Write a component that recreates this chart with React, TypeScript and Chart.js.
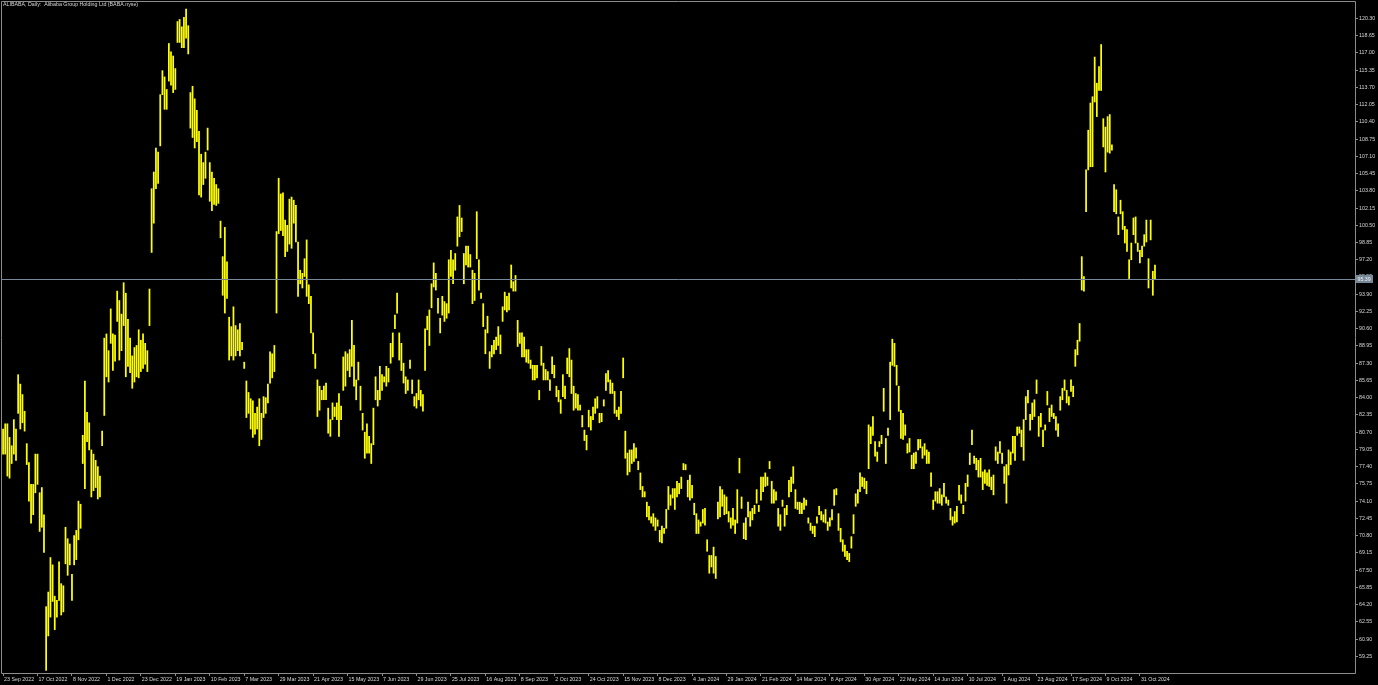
import React, { useEffect, useRef } from "react";
import { Chart, registerables } from "chart.js";
Chart.register(...registerables);

const chartTitle = "ALIBABA, Daily:  Alibaba Group Holding Ltd (BABA.nyse)";

// one date label every 16 daily bars, starting at bar 0
const xTickLabels = [
  "23 Sep 2022", "17 Oct 2022", "8 Nov 2022", "1 Dec 2022", "23 Dec 2022", "19 Jan 2023",
  "10 Feb 2023", "7 Mar 2023", "29 Mar 2023", "21 Apr 2023", "15 May 2023", "7 Jun 2023",
  "29 Jun 2023", "25 Jul 2023", "16 Aug 2023", "8 Sep 2023", "2 Oct 2023", "24 Oct 2023",
  "15 Nov 2023", "8 Dec 2023", "4 Jan 2024", "29 Jan 2024", "21 Feb 2024", "14 Mar 2024",
  "8 Apr 2024", "30 Apr 2024", "22 May 2024", "14 Jun 2024", "10 Jul 2024", "1 Aug 2024",
  "23 Aug 2024", "17 Sep 2024", "9 Oct 2024", "31 Oct 2024",
];
const barsPerDateLabel = 16;

const yTickValues = [
  59.25, 60.9, 62.55, 64.2, 65.85, 67.5, 69.15, 70.8, 72.45, 74.1, 75.75, 77.4, 79.05,
  80.7, 82.35, 84.0, 85.65, 87.3, 88.95, 90.6, 92.25, 93.9, 95.55, 97.2, 98.85, 100.5,
  102.15, 103.8, 105.45, 107.1, 108.75, 110.4, 112.05, 113.7, 115.35, 117.0, 118.65, 120.3,
];

const currentPrice = 95.39;

const barLow = [
  78.6, 78.6, 76.5, 76.3, 77.7, 78.6, 78.0, 82.5, 81.0, 81.6,
  80.8, 77.6, 74.1, 72.0, 72.8, 74.9, 75.7, 71.2, 71.6, 69.2,
  57.9, 61.2, 63.0, 64.5, 61.8, 63.0, 64.6, 63.2, 63.5, 68.1,
  67.0, 68.0, 64.6, 68.0, 68.5, 70.4, 71.5, 77.7, 75.3, 79.8,
  79.0, 74.5, 75.1, 75.4, 74.3, 74.5, 79.4, 82.3, 86.0, 85.5,
  89.2, 86.6, 87.5, 91.3, 87.6, 88.5, 90.9, 86.0, 87.0, 86.4,
  84.9, 85.5, 86.0, 85.9, 86.5, 86.8, 87.2, 86.5, 90.9, 97.9,
  100.7, 104.0, 104.5, 108.1, 113.0, 111.6, 111.6, 114.3, 113.9, 113.2,
  113.5, 118.0, 118.0, 117.5, 117.5, 118.4, 116.9, 109.8, 108.9, 107.9,
  108.5, 103.4, 103.2, 104.4, 105.0, 107.7, 102.8, 101.9, 102.5, 102.4,
  102.6, 99.3, 93.8, 92.1, 93.5, 87.6, 88.0, 87.6, 88.0, 88.5,
  88.0, 88.6, 86.8, 82.1, 82.5, 81.0, 80.2, 80.5, 81.0, 79.4,
  80.0, 82.1, 82.5, 83.5, 85.4, 85.9, 86.5, 92.1, 99.7, 100.0,
  99.5, 97.5, 98.0, 98.7, 98.3, 100.7, 98.9, 93.7, 94.9, 94.5,
  95.6, 93.7, 93.0, 90.2, 88.2, 86.8, 82.2, 82.8, 83.8, 83.8,
  83.8, 80.6, 80.3, 81.9, 82.2, 81.9, 80.3, 81.9, 84.7, 85.1,
  86.6, 86.0, 87.0, 85.1, 83.8, 85.7, 82.8, 80.9, 78.2, 78.7,
  78.7, 77.7, 79.5, 83.8, 83.2, 83.8, 84.7, 85.5, 85.1, 85.5,
  87.3, 87.9, 90.6, 92.1, 87.6, 86.6, 85.4, 84.4, 84.7, 86.8,
  84.4, 83.2, 83.0, 83.8, 83.2, 82.7, 86.6, 90.5, 89.0, 92.6,
  94.6, 94.3, 92.1, 90.2, 91.9, 91.3, 91.6, 92.1, 95.6, 94.9,
  96.2, 98.5, 99.4, 99.9, 94.9, 96.7, 96.5, 96.5, 93.0, 93.3,
  97.3, 94.3, 93.5, 90.8, 88.2, 90.2, 86.8, 87.9, 88.2, 88.6,
  89.0, 88.2, 91.3, 92.4, 92.2, 92.4, 94.5, 94.2, 94.2, 88.9,
  89.2, 87.9, 87.9, 87.4, 87.3, 86.8, 85.7, 85.7, 85.9, 83.8,
  87.1, 85.7, 85.7, 85.7, 84.7, 86.3, 85.9, 84.1, 83.6, 82.5,
  84.1, 83.9, 86.3, 86.0, 84.4, 82.8, 83.0, 82.8, 82.8, 81.2,
  79.9, 79.0, 81.2, 80.9, 81.9, 82.5, 83.0, 81.6, 81.7, 83.2,
  84.7, 85.5, 84.4, 84.4, 82.5, 82.2, 81.9, 82.5, 85.9, 78.2,
  76.6, 76.9, 77.7, 77.9, 78.2, 77.1, 75.2, 74.5, 74.5, 72.6,
  72.3, 72.0, 71.7, 71.3, 71.7, 70.2, 70.1, 71.0, 71.5, 73.3,
  73.7, 74.4, 73.3, 74.5, 74.8, 75.3, 77.1, 77.1, 74.5, 74.2,
  74.4, 72.8, 71.0, 71.0, 71.7, 72.0, 71.8, 69.3, 67.2, 67.8,
  67.2, 66.7, 72.4, 72.6, 73.6, 72.8, 72.9, 72.1, 71.5, 71.8,
  71.0, 72.0, 76.8, 73.4, 70.5, 70.4, 72.6, 71.7, 72.3, 72.9,
  73.9, 73.1, 74.2, 75.0, 75.5, 75.6, 77.2, 73.9, 73.9, 74.2,
  71.7, 71.3, 73.6, 71.7, 72.8, 74.5, 75.0, 75.8, 73.4, 73.3,
  72.9, 72.9, 73.3, 73.7, 72.0, 71.3, 71.0, 70.7, 72.0, 72.8,
  72.3, 72.1, 72.0, 71.3, 71.7, 72.3, 73.7, 74.7, 71.3, 70.2,
  69.3, 68.8, 68.5, 68.3, 69.6, 71.0, 73.6, 73.9, 75.0, 75.5,
  75.3, 74.8, 77.2, 79.6, 80.4, 78.4, 77.9, 79.3, 79.6, 82.7,
  77.7, 80.4, 81.9, 87.1, 87.0, 85.2, 82.7, 80.1, 80.0, 80.4,
  78.7, 78.8, 77.2, 77.2, 77.7, 79.0, 79.2, 78.2, 78.5, 77.7,
  77.7, 75.5, 73.3, 74.1, 73.9, 73.9, 73.7, 74.5, 73.9, 73.7,
  72.3, 71.8, 72.0, 72.1, 74.2, 73.9, 72.9, 74.1, 75.5, 77.6,
  79.5, 77.7, 77.1, 76.4, 76.4, 75.2, 75.8, 75.6, 75.5, 75.2,
  74.7, 78.0, 77.7, 78.7, 77.7, 75.8, 73.9, 76.6, 77.6, 78.7,
  78.0, 80.4, 80.6, 79.3, 78.0, 81.9, 83.5, 80.9, 81.9, 82.2,
  84.4, 80.3, 81.2, 79.3, 80.9, 83.3, 81.7, 82.2, 82.0, 80.9,
  80.3, 82.8, 83.8, 84.7, 83.5, 83.3, 84.6, 84.1, 87.0, 88.1,
  89.4, 94.3, 94.2, 101.8, 105.8, 106.1, 106.1, 112.3, 110.9, 113.4,
  113.4, 108.0, 105.6, 107.5, 107.4, 107.7, 101.8, 101.6, 99.6, 101.6,
  100.1, 98.8, 98.0, 95.4, 97.2, 99.6, 98.8, 98.0, 96.9, 97.5,
  98.5, 98.9, 94.5, 99.1, 93.8, 95.3,
];

const barHigh = [
  81.0, 81.5, 81.5, 80.2, 79.4, 81.9, 81.0, 86.2, 85.3, 84.3,
  82.7, 79.6, 77.8, 75.7, 75.7, 78.6, 78.6, 74.9, 75.4, 72.8,
  64.0, 65.4, 68.7, 68.0, 65.0, 64.6, 68.3, 66.2, 66.0, 71.6,
  70.5, 70.0, 67.1, 70.8, 71.3, 74.1, 73.8, 80.4, 85.6, 82.6,
  81.6, 79.0, 78.6, 78.0, 77.4, 76.5, 80.8, 89.7, 90.1, 88.5,
  92.5, 90.1, 90.0, 94.2, 93.3, 92.0, 95.0, 94.0, 91.5, 89.7,
  88.0, 88.8, 89.0, 90.5, 89.5, 90.1, 89.2, 88.5, 94.4, 104.0,
  105.6, 107.9, 107.5, 113.0, 115.3, 114.7, 113.5, 117.9, 117.1, 116.7,
  115.5, 120.0, 120.2, 119.5, 120.4, 121.2, 119.6, 113.2, 113.8, 112.6,
  111.5, 109.5, 107.3, 106.5, 107.5, 109.8, 106.5, 105.6, 105.0, 104.4,
  104.0, 100.9, 97.5, 100.3, 97.0, 91.7, 90.8, 92.7, 90.9, 90.5,
  91.1, 89.3, 87.4, 85.6, 84.5, 83.9, 83.7, 82.5, 83.1, 83.9,
  82.5, 84.1, 84.0, 85.3, 88.4, 88.2, 89.0, 99.9, 105.0, 103.5,
  103.6, 101.0, 100.5, 103.0, 103.2, 102.9, 102.4, 98.9, 96.2, 95.9,
  97.3, 99.1, 94.8, 93.7, 90.2, 88.2, 85.7, 85.1, 84.7, 85.1,
  85.4, 83.0, 81.9, 83.5, 83.1, 83.5, 84.4, 83.2, 87.9, 88.4,
  88.2, 88.6, 91.4, 89.0, 85.7, 87.4, 85.1, 82.5, 80.7, 81.5,
  80.3, 79.6, 83.0, 86.0, 84.7, 87.0, 86.2, 86.0, 87.0, 86.8,
  89.2, 90.2, 91.9, 94.0, 90.2, 89.2, 87.3, 86.0, 85.7, 87.6,
  85.7, 84.1, 84.4, 85.7, 84.7, 84.3, 90.6, 91.8, 92.4, 94.9,
  96.9, 95.9, 93.5, 91.6, 93.7, 93.2, 93.0, 97.2, 98.1, 97.2,
  97.8, 101.3, 102.4, 101.2, 97.8, 98.5, 98.5, 97.7, 96.2, 95.9,
  101.8, 97.2, 94.0, 93.0, 90.5, 91.8, 88.4, 89.0, 89.5, 89.8,
  90.8, 90.0, 92.7, 94.1, 93.7, 94.0, 96.7, 95.1, 95.7, 91.4,
  90.2, 90.2, 89.8, 88.6, 88.6, 87.6, 87.1, 87.1, 87.1, 84.7,
  88.9, 87.3, 86.7, 86.5, 85.7, 87.9, 87.1, 85.1, 84.7, 83.8,
  86.2, 85.1, 87.8, 88.7, 87.6, 85.1, 84.4, 84.3, 83.3, 82.3,
  80.9, 80.4, 82.8, 82.2, 83.1, 83.9, 84.1, 82.5, 82.5, 83.8,
  86.3, 86.6, 85.7, 85.4, 84.6, 82.8, 83.1, 84.6, 87.8, 80.8,
  78.7, 79.0, 79.0, 79.6, 79.2, 77.9, 76.8, 75.5, 75.0, 74.0,
  73.6, 72.6, 72.9, 72.5, 72.3, 71.3, 71.7, 71.5, 73.3, 75.5,
  74.7, 75.3, 75.3, 76.0, 75.8, 76.4, 77.7, 77.6, 76.1, 76.6,
  75.6, 73.9, 72.9, 72.3, 72.1, 73.3, 73.4, 70.4, 68.9, 68.9,
  69.7, 68.8, 74.0, 75.5, 75.2, 74.7, 74.5, 73.1, 72.5, 73.4,
  72.3, 75.2, 78.2, 74.5, 72.0, 72.5, 74.0, 73.1, 73.4, 73.7,
  75.2, 73.7, 76.4, 76.4, 76.8, 76.4, 77.9, 76.0, 75.2, 75.0,
  73.4, 72.8, 74.2, 73.4, 73.7, 76.1, 76.4, 77.4, 75.2, 74.0,
  74.0, 73.9, 74.4, 74.2, 72.5, 72.0, 71.7, 71.7, 72.6, 73.6,
  73.1, 72.8, 73.3, 72.1, 72.5, 73.3, 75.2, 75.3, 72.9, 71.5,
  70.4, 69.9, 69.3, 69.1, 70.7, 72.8, 74.8, 75.2, 76.8, 76.4,
  76.3, 76.0, 81.4, 81.2, 82.2, 79.8, 78.8, 79.8, 80.4, 84.9,
  80.1, 81.1, 87.4, 89.6, 89.2, 87.1, 85.1, 82.8, 82.5, 81.4,
  79.6, 80.1, 78.5, 78.7, 78.8, 80.0, 80.0, 79.3, 79.6, 79.0,
  78.8, 76.8, 74.2, 75.0, 75.0, 75.3, 74.7, 75.8, 74.5, 74.2,
  73.4, 72.6, 73.1, 73.6, 75.6, 74.7, 73.7, 75.8, 76.6, 78.7,
  80.9, 78.4, 78.2, 78.0, 78.2, 76.9, 77.1, 76.8, 77.1, 76.4,
  76.6, 79.3, 78.8, 79.8, 78.7, 77.4, 77.6, 79.0, 78.8, 80.3,
  80.3, 81.2, 81.2, 80.9, 81.9, 84.1, 84.7, 82.4, 83.5, 83.8,
  85.7, 82.2, 82.5, 80.9, 81.4, 84.6, 83.0, 83.3, 82.5, 82.2,
  81.5, 84.1, 84.9, 85.7, 84.7, 84.1, 85.7, 85.1, 88.6, 89.5,
  91.1, 97.5, 95.6, 105.8, 109.6, 112.2, 112.8, 116.6, 114.1, 115.7,
  117.8, 110.7, 109.9, 110.9, 111.1, 108.2, 104.4, 103.9, 101.3, 102.9,
  101.8, 100.4, 100.1, 97.2, 98.8, 101.2, 101.3, 98.8, 98.1, 98.5,
  99.6, 101.0, 97.3, 101.0, 96.1, 96.7,
];

const AXIS_COLOR = "#8c8c8c";
const TEXT_COLOR = "#d8d8d8";
const BAR_COLOR = "#ffff00";
const PRICE_LINE_COLOR = "#778899";
const FONT_FAMILY = "'Liberation Sans', Arial, sans-serif";
const FONT_SIZE = 5.3;

const mtPlugin = {
  id: "mtDecor",
  beforeDraw(chart: any) {
    const { ctx, width, height } = chart;
    ctx.save();
    ctx.fillStyle = "#000000";
    ctx.fillRect(0, 0, width, height);
    ctx.restore();
  },
  afterDraw(chart: any) {
    const { ctx, chartArea: ca, scales } = chart;
    ctx.save();
    // frame
    ctx.strokeStyle = AXIS_COLOR;
    ctx.lineWidth = 1;
    ctx.beginPath();
    ctx.moveTo(ca.left - 0.5, ca.bottom + 0.5);
    ctx.lineTo(ca.left - 0.5, ca.top - 0.5);
    ctx.lineTo(ca.right + 0.5, ca.top - 0.5);
    ctx.lineTo(ca.right + 0.5, ca.bottom + 0.5);
    ctx.lineTo(ca.left - 0.5, ca.bottom + 0.5);
    ctx.stroke();

    // current price line + label
    const py = Math.round(scales.y.getPixelForValue(currentPrice)) + 0.5;
    ctx.strokeStyle = PRICE_LINE_COLOR;
    ctx.beginPath();
    ctx.moveTo(ca.left, py);
    ctx.lineTo(ca.right, py);
    ctx.stroke();
    ctx.fillStyle = PRICE_LINE_COLOR;
    ctx.fillRect(ca.right + 1, py - 4.5, 17, 8);
    ctx.fillStyle = "#f0f0f0";
    ctx.font = `${FONT_SIZE}px ${FONT_FAMILY}`;
    ctx.textAlign = "left";
    ctx.textBaseline = "middle";
    ctx.fillText(currentPrice.toFixed(2), ca.right + 2.5, py);

    // title
    ctx.fillStyle = TEXT_COLOR;
    ctx.fillText(chartTitle, 3, 5);
    ctx.restore();
  },
};

export default function App() {
  const ref = useRef<HTMLCanvasElement | null>(null);

  useEffect(() => {
    document.body.style.margin = "0";
    document.body.style.background = "#000";
    const canvas = ref.current;
    if (!canvas) return;

    const points = barLow.map((lo, i) => ({ x: i, y: [lo, barHigh[i]] }));
    const xTickIndex = xTickLabels.map((_, k) => k * barsPerDateLabel);

    const chart = new Chart(canvas, {
      type: "bar",
      data: {
        datasets: [
          {
            data: points as any,
            backgroundColor: BAR_COLOR,
            borderWidth: 0,
            barThickness: 1.1,
            borderSkipped: false,
          } as any,
        ],
      },
      options: {
        responsive: false,
        animation: false,
        devicePixelRatio: 1,
        layout: { padding: { left: 2, top: 2, right: 0, bottom: 0 } },
        plugins: {
          legend: { display: false },
          tooltip: { enabled: false },
          title: { display: false },
        },
        scales: {
          x: {
            type: "linear",
            offset: false,
            min: -0.5,
            max: 627.9,
            afterBuildTicks: (s: any) => {
              s.ticks = xTickIndex.map((v) => ({ value: v }));
            },
            afterFit: (s: any) => {
              s.height = 12;
              s.paddingLeft = 0;
              s.paddingRight = 0;
            },
            ticks: {
              autoSkip: false,
              maxRotation: 0,
              minRotation: 0,
              align: "start",
              padding: 0,
              labelOffset: 1,
              color: TEXT_COLOR,
              font: { family: FONT_FAMILY, size: FONT_SIZE },
              callback: (_v: any, idx: number) => xTickLabels[idx] ?? "",
            },
            grid: { offset: false, drawOnChartArea: false, drawTicks: true, tickLength: 3, color: AXIS_COLOR },
            border: { display: false },
          },
          y: {
            type: "linear",
            position: "right",
            min: 57.65,
            max: 121.87,
            afterBuildTicks: (s: any) => {
              s.ticks = yTickValues.map((v) => ({ value: v }));
            },
            afterFit: (s: any) => {
              s.width = 23;
              s.paddingTop = 0;
              s.paddingBottom = 0;
            },
            ticks: {
              padding: 1,
              color: TEXT_COLOR,
              font: { family: FONT_FAMILY, size: FONT_SIZE },
              callback: (v: any) => Number(v).toFixed(2),
            },
            grid: { drawOnChartArea: false, drawTicks: true, tickLength: 3, color: AXIS_COLOR },
            border: { display: false },
          },
        },
      } as any,
      plugins: [mtPlugin],
    });
    return () => chart.destroy();
  }, []);

  return (
    <canvas
      ref={ref}
      width={1378}
      height={685}
      style={{ display: "block", width: 1378, height: 685 }}
    />
  );
}
